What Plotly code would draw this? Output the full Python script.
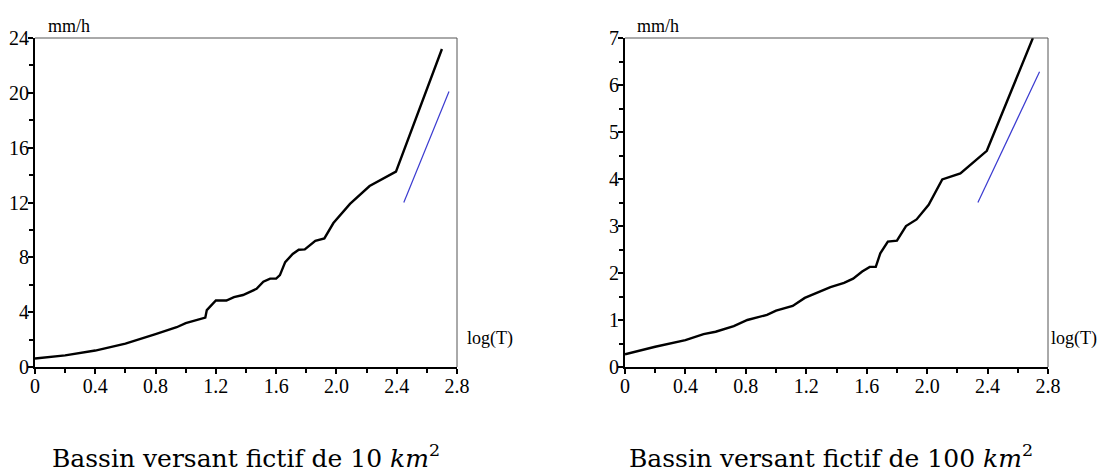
import plotly.graph_objects as go

# Left panel: 10 km2
x10 = [0.0, 0.2, 0.4, 0.6, 0.8, 0.94, 1.0, 1.13, 1.14, 1.2, 1.27, 1.32, 1.38, 1.43, 1.47,
       1.515, 1.56, 1.60, 1.625, 1.66, 1.71, 1.75, 1.79, 1.86, 1.92, 1.98, 2.09, 2.22, 2.395, 2.70]
y10 = [0.62, 0.85, 1.2, 1.7, 2.4, 2.9, 3.2, 3.6, 4.15, 4.85, 4.85, 5.1, 5.25, 5.5, 5.7,
       6.22, 6.45, 6.45, 6.7, 7.65, 8.25, 8.55, 8.58, 9.2, 9.38, 10.5, 11.9, 13.2, 14.25, 23.2]
blue10_x = [2.447, 2.747]
blue10_y = [12.0, 20.1]

# Right panel: 100 km2
x100 = [0.0, 0.2, 0.4, 0.52, 0.6, 0.72, 0.81, 0.94, 1.0, 1.11, 1.19, 1.29, 1.36, 1.45, 1.51,
        1.57, 1.62, 1.66, 1.69, 1.74, 1.80, 1.86, 1.93, 2.01, 2.10, 2.22, 2.32, 2.395, 2.70]
y100 = [0.27, 0.43, 0.57, 0.70, 0.75, 0.87, 1.0, 1.11, 1.2, 1.3, 1.47, 1.6, 1.7, 1.79, 1.88,
        2.03, 2.13, 2.13, 2.42, 2.67, 2.69, 3.0, 3.14, 3.45, 3.99, 4.12, 4.39, 4.60, 7.0]
blue100_x = [2.336, 2.744]
blue100_y = [3.5, 6.28]

xtick_vals = [0, 0.4, 0.8, 1.2, 1.6, 2.0, 2.4, 2.8]
xtick_text = ["0", "0.4", "0.8", "1.2", "1.6", "2.0", "2.4", "2.8"]
xminor = [0.2, 0.6, 1.0, 1.4, 1.8, 2.2, 2.6]
ytick10 = [0, 4, 8, 12, 16, 20, 24]
yminor10 = [2, 6, 10, 14, 18, 22]
ytick100 = [0, 1, 2, 3, 4, 5, 6, 7]
yminor100 = [0.5, 1.5, 2.5, 3.5, 4.5, 5.5, 6.5]

captions = ["Bassin versant fictif de 10 <i>km</i><sup>2</sup>",
            "Bassin versant fictif de 100 <i>km</i><sup>2</sup>"]

# The page body has an 8px margin: the figure is laid out in page pixels minus OFF
OFF = 8
W, H = 1109 - OFF, 472 - OFF
SERIF = "Liberation Serif, Times New Roman, serif"


def px(xp):
    return (xp - OFF) / W


def py(yp):
    return 1 - (yp - OFF) / H


fig = go.Figure()
fig.add_trace(go.Scatter(x=x10, y=y10, mode="lines", line=dict(color="black", width=2.4),
                         xaxis="x", yaxis="y", showlegend=False))
fig.add_trace(go.Scatter(x=blue10_x, y=blue10_y, mode="lines", line=dict(color="#3a3ad0", width=1.2),
                         xaxis="x", yaxis="y", showlegend=False))
fig.add_trace(go.Scatter(x=x100, y=y100, mode="lines", line=dict(color="black", width=2.4),
                         xaxis="x2", yaxis="y2", showlegend=False))
fig.add_trace(go.Scatter(x=blue100_x, y=blue100_y, mode="lines", line=dict(color="#3a3ad0", width=1.2),
                         xaxis="x2", yaxis="y2", showlegend=False))

tickfont = dict(family=SERIF, size=20, color="black")
ydom = [py(367), py(38)]


def xax(dom, anchor):
    return dict(domain=dom, anchor=anchor, range=[0, 2.8], tickvals=xtick_vals, ticktext=xtick_text,
                ticks="outside", ticklen=5, tickwidth=1.5, tickcolor="black", automargin=False,
                showline=True, linecolor="black", linewidth=1.8, showgrid=False, zeroline=False,
                tickfont=tickfont, ticklabelstandoff=-5,
                minor=dict(tickvals=xminor, ticks="outside", ticklen=4, tickwidth=1.5, tickcolor="black"))


def yax(anchor, rng, tv, mv):
    return dict(domain=ydom, anchor=anchor, range=rng, tickvals=tv,
                ticks="outside", ticklen=5, tickwidth=1.5, tickcolor="black", automargin=False,
                showline=True, linecolor="black", linewidth=1.8, showgrid=False, zeroline=False,
                tickfont=tickfont, ticklabelstandoff=-5,
                minor=dict(tickvals=mv, ticks="outside", ticklen=4, tickwidth=1.5, tickcolor="black"))


fig.update_layout(
    width=W, height=H, margin=dict(l=0, r=0, t=0, b=0, autoexpand=False),
    paper_bgcolor="white", plot_bgcolor="white",
    xaxis=xax([px(35), px(457)], "y"),
    yaxis=yax("x", [0, 24], ytick10, yminor10),
    xaxis2=xax([px(625), px(1048)], "y2"),
    yaxis2=yax("x2", [0, 7], ytick100, yminor100),
)

# Top and right thin frame lines
for xr, yr in [("x domain", "y domain"), ("x2 domain", "y2 domain")]:
    fig.add_shape(type="line", xref=xr, yref=yr, x0=0, x1=1, y0=1, y1=1,
                  line=dict(color="#555555", width=1))
    fig.add_shape(type="line", xref=xr, yref=yr, x0=1, x1=1, y0=0, y1=1,
                  line=dict(color="#555555", width=1))

labfont = dict(family=SERIF, size=18, color="black")
for xl, yl, t in [(46, 26, "mm/h"), (635, 26, "mm/h"), (465, 338, "log(T)"), (1049, 338, "log(T)")]:
    fig.add_annotation(text=t, xref="paper", yref="paper", x=px(xl), y=py(yl),
                       xanchor="left", yanchor="middle", showarrow=False, font=labfont)

capfont = dict(family="DejaVu Serif", size=25, color="black")
for xc, t in [(246, captions[0]), (831, captions[1])]:
    fig.add_annotation(text=t, xref="paper", yref="paper", x=px(xc), y=py(456),
                       xanchor="center", yanchor="middle", showarrow=False, font=capfont)

fig.write_html("out.html")
